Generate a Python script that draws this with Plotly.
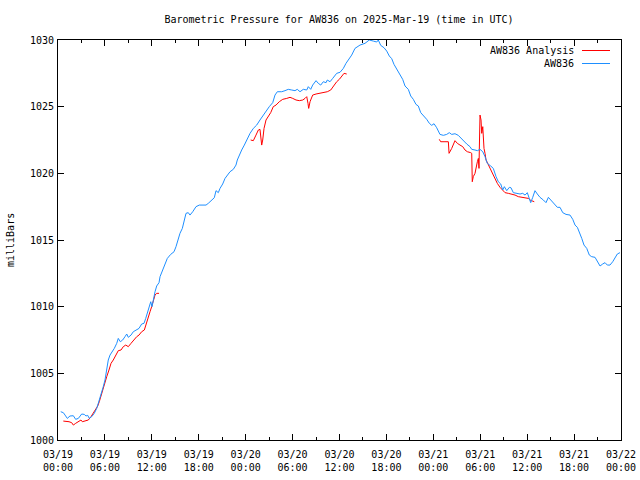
import plotly.graph_objects as go
import pandas as pd

BASE = pd.Timestamp("2025-03-19 00:00")

# AW836 observed (hours since 2025-03-19 00:00 UTC, millibars)
obs_hours = [0.35, 0.68, 0.9, 1.19, 1.53, 1.96, 2.26, 2.6, 3.03, 3.36, 3.58, 3.8, 4.0, 4.31, 4.64, 4.95,
             5.15, 5.5, 5.79, 6.01, 6.23, 6.43, 6.65, 6.94, 7.2, 7.51, 7.71, 7.97, 8.27, 8.57, 8.79, 8.99,
             9.34, 9.63, 10.07, 10.36, 10.7, 11.0, 11.22, 11.42, 11.64, 11.86, 12.02, 12.19, 12.41, 12.62,
             12.92, 13.05, 13.39, 13.68, 13.98, 14.41, 14.84, 15.09, 15.31, 15.6, 15.9, 16.15, 16.37, 16.66,
             16.88, 17.23, 17.65, 18.07, 18.58, 18.93, 19.22, 19.66, 19.99, 20.21, 20.5, 20.72, 21.06, 21.36,
             21.65, 22.0, 22.42, 22.76, 22.93, 23.19, 23.49, 23.83, 24.13, 24.56, 24.98, 25.41, 25.83, 26.18,
             26.6, 27.02, 27.46, 27.75, 28.05, 28.61, 29.03, 29.45, 29.89, 30.31, 30.6, 30.95, 31.37, 31.81,
             32.01, 32.32, 32.57, 33.0, 33.29, 33.6, 33.93, 34.28, 34.44, 34.79, 35.13, 35.64, 36.07, 36.49,
             36.83, 37.13, 37.56, 37.98, 38.62, 39.26, 39.81, 40.32, 40.76, 40.96, 41.27, 41.69, 42.04, 42.37,
             42.68, 42.97, 43.32, 43.74, 44.08, 44.38, 44.8, 45.11, 45.44, 45.78, 46.08, 46.39, 46.81, 47.15,
             47.49, 47.79, 48.09, 48.43, 48.85, 49.28, 49.71, 50.04, 50.35, 50.77, 51.19, 51.41, 51.83, 52.27,
             52.69, 52.91, 53.33, 53.63, 53.97, 54.32, 54.61, 54.9, 55.34, 55.67, 56.02, 56.31, 56.62, 56.87,
             57.08, 57.39, 57.72, 57.93, 58.23, 58.66, 59.09, 59.43, 59.73, 60.02, 60.24, 60.45, 60.71, 61.0,
             61.3, 61.64, 62.07, 62.41, 62.71, 63.01, 63.35, 63.56, 63.86, 64.2, 64.55, 64.97, 65.48, 65.83,
             66.12, 66.42, 66.67, 66.98, 67.27, 67.62, 67.95, 68.25, 68.68, 68.97, 69.32, 69.66, 69.96, 70.25,
             70.59, 70.94, 71.23, 71.53, 71.87]
obs_mb = [1002.12, 1002.05, 1001.87, 1001.62, 1001.8, 1001.82, 1001.55, 1001.62, 1001.95, 1001.92, 1001.8,
          1001.85, 1001.62, 1001.75, 1002.0, 1002.37, 1002.75, 1003.37, 1004.0, 1004.5, 1005.25, 1006.0,
          1006.37, 1006.62, 1006.87, 1007.25, 1007.62, 1007.37, 1007.5, 1007.75, 1007.95, 1007.7, 1007.87,
          1008.12, 1008.25, 1008.37, 1008.7, 1008.75, 1009.12, 1009.5, 1009.87, 1010.37, 1010.0, 1010.62,
          1011.12, 1011.55, 1011.8, 1012.25, 1012.75, 1013.25, 1013.62, 1013.92, 1014.12, 1014.5, 1015.0,
          1015.5, 1015.87, 1016.5, 1017.0, 1017.05, 1016.87, 1017.12, 1017.5, 1017.62, 1017.62, 1017.62,
          1017.75, 1018.0, 1018.17, 1018.7, 1018.55, 1018.87, 1019.2, 1019.62, 1019.87, 1020.12, 1020.3,
          1020.62, 1021.0, 1021.37, 1021.75, 1022.12, 1022.5, 1023.0, 1023.37, 1023.62, 1024.0, 1024.3,
          1024.62, 1025.0, 1025.3, 1025.87, 1026.12, 1026.12, 1026.2, 1026.3, 1026.25, 1026.2, 1026.3,
          1026.12, 1026.3, 1026.25, 1026.5, 1026.3, 1026.62, 1026.95, 1026.75, 1026.62, 1026.87, 1026.8,
          1027.0, 1026.87, 1027.12, 1027.5, 1027.58, 1027.87, 1028.25, 1028.5, 1028.87, 1029.37, 1029.62,
          1029.75, 1030.0, 1029.92, 1029.85, 1030.0, 1029.6, 1029.42, 1029.17, 1028.8, 1028.6, 1028.17,
          1027.8, 1027.42, 1027.05, 1026.55, 1026.3, 1025.8, 1025.55, 1025.17, 1025.05, 1024.55, 1024.3,
          1024.05, 1023.75, 1023.6, 1023.72, 1023.42, 1022.92, 1022.85, 1022.92, 1023.05, 1022.92, 1022.97,
          1022.85, 1022.7, 1022.45, 1022.2, 1022.0, 1021.8, 1021.75, 1021.7, 1021.8, 1021.62, 1021.25,
          1020.75, 1020.55, 1020.37, 1019.75, 1019.37, 1019.2, 1018.75, 1019.0, 1018.7, 1018.95, 1018.92,
          1018.55, 1018.5, 1018.45, 1018.5, 1018.37, 1018.55, 1018.12, 1017.8, 1018.2, 1018.7, 1018.45,
          1018.2, 1018.0, 1017.8, 1018.2, 1018.0, 1017.75, 1017.62, 1017.45, 1017.45, 1017.05, 1016.92,
          1016.87, 1016.55, 1016.12, 1015.95, 1015.5, 1015.12, 1014.62, 1014.37, 1013.87, 1013.75, 1013.7,
          1013.37, 1013.05, 1013.2, 1013.3, 1013.12, 1013.12, 1013.37, 1013.7, 1013.95, 1014.05]

# AW836 Analysis (None = gap)
ana_hours = [0.68, 1.11, 1.41, 1.75, 1.96, 2.26, 2.6, 2.94, 3.11, 3.45, 3.88, 4.22, 4.51, 4.82, 5.08, 5.28,
             5.59, 5.79, 6.01, 6.23, 6.52, 6.78, 7.07, 7.38, 7.71, 8.06, 8.35, 8.66, 8.99, 9.34, 9.72, 10.07,
             10.36, 10.7, 11.04, 11.34, 11.55, 11.77, 11.98, 12.19, 12.41, 12.62, 12.92, None,
             24.64, 24.98, 25.32, 25.62, 25.83, 25.96, 26.05, 26.18, 26.35, 26.6, 26.9, 27.2, 27.53, 27.88,
             28.3, 28.74, 29.25, 29.67, 30.02, 30.44, 30.86, 31.3, 31.59, 31.81, 31.97, 32.06, 32.23, 32.57,
             33.0, 33.51, 33.93, 34.44, 34.88, 35.21, 35.64, 35.98, 36.28, 36.58, 36.92, None,
             48.76, 48.94, 49.49, 49.92, 50.01, 50.35, 50.77, 51.07, 51.41, 51.76, 52.05, 52.35, 52.78, 52.91,
             52.98, 53.11, 53.33, 53.46, 53.63, 53.76, 53.84, 53.88, 53.97, 54.1, 54.19, 54.32, 54.39, 54.48,
             54.61, 54.74, 54.95, 55.25, 55.59, 55.89, 56.18, 56.53, 56.87, 57.17, 57.59, 58.02, 58.45, 58.87,
             59.3, 59.73, 60.15, 60.36, 60.71, 60.91]
ana_mb = [1001.42, 1001.42, 1001.37, 1001.3, 1001.12, 1001.25, 1001.37, 1001.5, 1001.37, 1001.45, 1001.5,
          1001.75, 1002.0, 1002.25, 1002.55, 1002.87, 1003.5, 1004.0, 1004.25, 1004.75, 1005.25, 1005.75,
          1006.0, 1006.37, 1006.7, 1006.75, 1007.0, 1007.12, 1007.0, 1007.25, 1007.55, 1007.75, 1007.87,
          1008.12, 1008.25, 1008.75, 1009.25, 1009.62, 1010.0, 1010.37, 1010.87, 1011.0, 1011.0, None,
          1022.5, 1022.45, 1022.87, 1023.25, 1023.3, 1022.62, 1022.12, 1022.5, 1023.37, 1024.0, 1024.25,
          1024.55, 1025.0, 1025.12, 1025.37, 1025.55, 1025.62, 1025.7, 1025.62, 1025.5, 1025.45, 1025.5,
          1025.62, 1025.75, 1025.25, 1024.87, 1025.37, 1025.87, 1025.95, 1026.0, 1026.05, 1026.12, 1026.25,
          1026.55, 1026.87, 1027.05, 1027.25, 1027.5, 1027.45, None,
          1022.55, 1022.37, 1022.37, 1022.37, 1021.5, 1021.87, 1022.45, 1022.25, 1022.12, 1022.0, 1021.75,
          1021.62, 1021.55, 1021.5, 1019.37, 1019.75, 1020.0, 1020.5, 1020.87, 1021.12, 1020.37, 1021.75,
          1024.37, 1024.0, 1023.0, 1023.5, 1022.25, 1021.87, 1021.5, 1021.0, 1020.75, 1020.37, 1020.0,
          1019.62, 1019.25, 1018.95, 1018.7, 1018.55, 1018.5, 1018.45, 1018.37, 1018.25, 1018.2, 1018.12,
          1018.12, 1018.0, 1017.95, 1017.87]

TITLE = "Barometric Pressure for AW836 on 2025-Mar-19 (time in UTC)"
Y_LABEL = "milliBars"
LEGEND_LABELS = ["AW836 Analysis", "AW836"]
RED = "#ff0000"
BLUE = "#1e8fff"


def to_time(hours):
    return [None if h is None else BASE + pd.Timedelta(hours=h) for h in hours]


FONT = dict(family="DejaVu Sans Mono", size=10, color="black")
PL, PR, PT, PB = 58, 19, 40, 40
PW, PH = 640 - PL - PR, 480 - PT - PB

fig = go.Figure()
fig.add_trace(go.Scatter(x=to_time(ana_hours), y=ana_mb, mode="lines", name=LEGEND_LABELS[0],
                         line=dict(color=RED, width=1), connectgaps=False))
fig.add_trace(go.Scatter(x=to_time(obs_hours), y=obs_mb, mode="lines", name=LEGEND_LABELS[1],
                         line=dict(color=BLUE, width=1)))

fig.update_layout(
    width=640, height=480,
    margin=dict(l=PL, r=PR, t=PT, b=PB, autoexpand=False),
    paper_bgcolor="white", plot_bgcolor="white",
    font=FONT,
    showlegend=False,
    hovermode=False,
    title=dict(text=TITLE, x=339 / 640, xanchor="center",
               y=1 - 19 / 480, yanchor="middle", font=FONT),
)

fig.update_xaxes(
    type="date", automargin=False,
    range=[BASE, BASE + pd.Timedelta(hours=72)],
    tick0=BASE, dtick=6 * 3600 * 1000,
    tickformat="%m/%d<br>%H:%M",
    ticks="inside", ticklen=6, tickwidth=1, tickcolor="black",
    minor=dict(dtick=3 * 3600 * 1000, ticks="inside", ticklen=3, tickcolor="black"),
    showgrid=False, zeroline=False,
    showline=True, linecolor="black", linewidth=1, mirror="ticks",
    tickfont=FONT, ticklabelstandoff=5,
)
fig.update_yaxes(
    automargin=False,
    range=[1000, 1030], dtick=5, tick0=1000,
    ticks="inside", ticklen=6, tickwidth=1, tickcolor="black",
    showgrid=False, zeroline=False,
    showline=True, linecolor="black", linewidth=1, mirror="ticks",
    tickfont=FONT, ticklabelstandoff=1,
)

# y-axis label as rotated text
fig.add_annotation(xref="paper", yref="paper", x=(10 - PL) / PW, y=(440 - 240) / PH, text=Y_LABEL,
                   textangle=-90, showarrow=False, xanchor="center", yanchor="middle", font=FONT)

# gnuplot-style key: text right-aligned, line sample to its right
for i, (label, color) in enumerate(zip(LEGEND_LABELS, [RED, BLUE])):
    yk = 1 - (10.5 + 13 * i) / PH
    fig.add_annotation(xref="paper", yref="paper", x=(576 - PL) / PW, y=yk, text=label,
                       showarrow=False, xanchor="right", yanchor="middle", font=FONT)
    fig.add_shape(type="line", xref="paper", yref="paper",
                  x0=(582 - PL) / PW, x1=(610 - PL) / PW, y0=yk, y1=yk,
                  line=dict(color=color, width=1))

fig.write_html("out.html", config=dict(displayModeBar=False, staticPlot=True),
               post_script="document.body.style.margin='0';document.body.style.overflow='hidden';")
